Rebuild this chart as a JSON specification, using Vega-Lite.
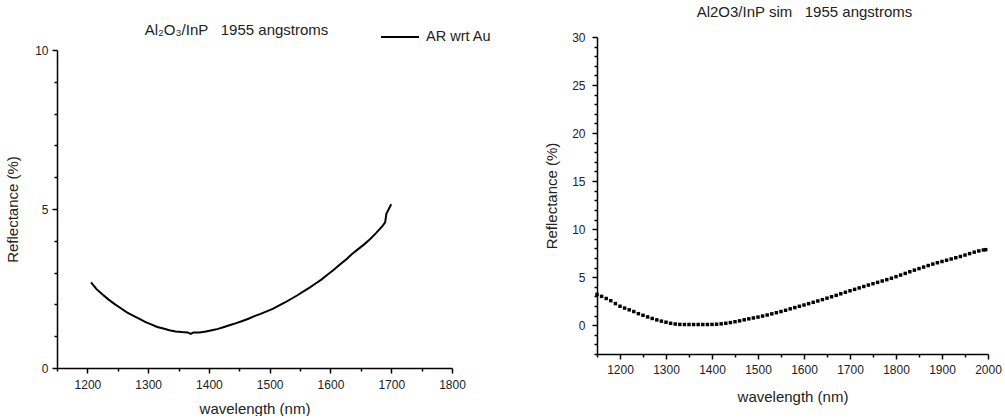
{
  "$schema": "https://vega.github.io/schema/vega-lite/v6.json",
  "padding": {"left": 5, "top": 5, "right": 0, "bottom": 0},
  "config": {
    "view": {"stroke": null},
    "font": "Liberation Sans",
    "axis": {
      "grid": false,
      "domainColor": "black",
      "domainWidth": 1.5,
      "tickColor": "black",
      "tickWidth": 1.5,
      "labelFont": "Liberation Sans",
      "labelFontSize": 12,
      "labelColor": "#222",
      "titleFont": "Liberation Sans",
      "titleFontSize": 15,
      "titleFontWeight": "normal",
      "titleColor": "#222",
      "labelPadding": 4,
      "labelOverlap": false,
      "labelFlush": false
    },
    "title": {"font": "Liberation Sans", "fontSize": 15, "fontWeight": "normal", "color": "#222", "frame": "group", "baseline": "alphabetic"}
  },
  "spacing": 78,
  "hconcat": [
    {
      "width": 395,
      "height": 331,
      "title": {"text": "Al₂O₃/InP\u00a0\u00a0\u00a01955 angstroms", "dx": -18, "offset": -1},
      "data": {"values": [
        {"series": "AR wrt Au", "wavelength": 1206, "reflectance": 2.69},
        {"series": "AR wrt Au", "wavelength": 1215, "reflectance": 2.48},
        {"series": "AR wrt Au", "wavelength": 1225, "reflectance": 2.31},
        {"series": "AR wrt Au", "wavelength": 1235, "reflectance": 2.15},
        {"series": "AR wrt Au", "wavelength": 1245, "reflectance": 2.01},
        {"series": "AR wrt Au", "wavelength": 1255, "reflectance": 1.88},
        {"series": "AR wrt Au", "wavelength": 1265, "reflectance": 1.75},
        {"series": "AR wrt Au", "wavelength": 1275, "reflectance": 1.65},
        {"series": "AR wrt Au", "wavelength": 1285, "reflectance": 1.55},
        {"series": "AR wrt Au", "wavelength": 1295, "reflectance": 1.45},
        {"series": "AR wrt Au", "wavelength": 1305, "reflectance": 1.37},
        {"series": "AR wrt Au", "wavelength": 1315, "reflectance": 1.29},
        {"series": "AR wrt Au", "wavelength": 1325, "reflectance": 1.24},
        {"series": "AR wrt Au", "wavelength": 1335, "reflectance": 1.19},
        {"series": "AR wrt Au", "wavelength": 1345, "reflectance": 1.15},
        {"series": "AR wrt Au", "wavelength": 1355, "reflectance": 1.13},
        {"series": "AR wrt Au", "wavelength": 1365, "reflectance": 1.12},
        {"series": "AR wrt Au", "wavelength": 1370, "reflectance": 1.07},
        {"series": "AR wrt Au", "wavelength": 1375, "reflectance": 1.12},
        {"series": "AR wrt Au", "wavelength": 1385, "reflectance": 1.12},
        {"series": "AR wrt Au", "wavelength": 1395, "reflectance": 1.15},
        {"series": "AR wrt Au", "wavelength": 1405, "reflectance": 1.19},
        {"series": "AR wrt Au", "wavelength": 1415, "reflectance": 1.23},
        {"series": "AR wrt Au", "wavelength": 1425, "reflectance": 1.29},
        {"series": "AR wrt Au", "wavelength": 1435, "reflectance": 1.35},
        {"series": "AR wrt Au", "wavelength": 1445, "reflectance": 1.41},
        {"series": "AR wrt Au", "wavelength": 1455, "reflectance": 1.48},
        {"series": "AR wrt Au", "wavelength": 1465, "reflectance": 1.55},
        {"series": "AR wrt Au", "wavelength": 1475, "reflectance": 1.63},
        {"series": "AR wrt Au", "wavelength": 1485, "reflectance": 1.70},
        {"series": "AR wrt Au", "wavelength": 1495, "reflectance": 1.78},
        {"series": "AR wrt Au", "wavelength": 1505, "reflectance": 1.86},
        {"series": "AR wrt Au", "wavelength": 1515, "reflectance": 1.96},
        {"series": "AR wrt Au", "wavelength": 1525, "reflectance": 2.06},
        {"series": "AR wrt Au", "wavelength": 1535, "reflectance": 2.17},
        {"series": "AR wrt Au", "wavelength": 1545, "reflectance": 2.28},
        {"series": "AR wrt Au", "wavelength": 1555, "reflectance": 2.40},
        {"series": "AR wrt Au", "wavelength": 1565, "reflectance": 2.52},
        {"series": "AR wrt Au", "wavelength": 1575, "reflectance": 2.65},
        {"series": "AR wrt Au", "wavelength": 1585, "reflectance": 2.78},
        {"series": "AR wrt Au", "wavelength": 1595, "reflectance": 2.93},
        {"series": "AR wrt Au", "wavelength": 1605, "reflectance": 3.08},
        {"series": "AR wrt Au", "wavelength": 1615, "reflectance": 3.25},
        {"series": "AR wrt Au", "wavelength": 1625, "reflectance": 3.40},
        {"series": "AR wrt Au", "wavelength": 1635, "reflectance": 3.58},
        {"series": "AR wrt Au", "wavelength": 1645, "reflectance": 3.73},
        {"series": "AR wrt Au", "wavelength": 1655, "reflectance": 3.88},
        {"series": "AR wrt Au", "wavelength": 1665, "reflectance": 4.05},
        {"series": "AR wrt Au", "wavelength": 1675, "reflectance": 4.24},
        {"series": "AR wrt Au", "wavelength": 1685, "reflectance": 4.45},
        {"series": "AR wrt Au", "wavelength": 1690, "reflectance": 4.58},
        {"series": "AR wrt Au", "wavelength": 1692, "reflectance": 4.85},
        {"series": "AR wrt Au", "wavelength": 1700, "reflectance": 5.15}
      ]},
      "mark": {"type": "line", "strokeWidth": 2},
      "encoding": {
        "x": {
          "field": "wavelength", "type": "quantitative",
          "scale": {"domain": [1150, 1800], "nice": false, "zero": false},
          "axis": {
            "title": "wavelength (nm)",
            "format": "d",
            "values": [1150, 1200, 1250, 1300, 1350, 1400, 1450, 1500, 1550, 1600, 1650, 1700, 1750, 1800],
            "labelExpr": "datum.value % 100 === 0 ? datum.label : ''",
            "tickSize": {"condition": {"test": "datum.value % 100 === 0", "value": 5}, "value": 3},
            "labelPadding": 6,
            "titlePadding": 11
          }
        },
        "y": {
          "field": "reflectance", "type": "quantitative",
          "scale": {"domain": [0, 10], "range": [331, 13], "nice": false, "zero": false},
          "axis": {
            "title": "Reflectance (%)",
            "values": [0, 1, 2, 3, 4, 5, 6, 7, 8, 9, 10],
            "labelExpr": "datum.value % 5 === 0 ? datum.label : ''",
            "tickSize": {"condition": {"test": "datum.value % 5 === 0", "value": 5}, "value": 3},
            "titlePadding": 14
          }
        },
        "color": {
          "field": "series", "type": "nominal",
          "scale": {"range": ["black"]},
          "legend": {
            "title": null,
            "orient": "none",
            "legendX": 323,
            "legendY": -20,
            "padding": 0,
            "symbolType": "stroke",
            "symbolSize": 1444,
            "symbolStrokeWidth": 2,
            "symbolStrokeColor": "black",
            "labelFont": "Liberation Sans",
            "labelFontSize": 14.5,
            "labelColor": "#222",
            "labelOffset": 6
          }
        }
      }
    },
    {
      "width": 391,
      "height": 317,
      "title": {"text": "Al2O3/InP sim\u00a0\u00a0\u00a01955 angstroms", "dx": 12, "offset": 11},
      "data": {"values": [
        {"wavelength": 1150, "reflectance": 3.2},
        {"wavelength": 1160, "reflectance": 3.0},
        {"wavelength": 1170, "reflectance": 2.78},
        {"wavelength": 1180, "reflectance": 2.55},
        {"wavelength": 1190, "reflectance": 2.25},
        {"wavelength": 1200, "reflectance": 1.97},
        {"wavelength": 1210, "reflectance": 1.78},
        {"wavelength": 1220, "reflectance": 1.6},
        {"wavelength": 1230, "reflectance": 1.42},
        {"wavelength": 1240, "reflectance": 1.2},
        {"wavelength": 1250, "reflectance": 1.03},
        {"wavelength": 1260, "reflectance": 0.86},
        {"wavelength": 1270, "reflectance": 0.7},
        {"wavelength": 1280, "reflectance": 0.55},
        {"wavelength": 1290, "reflectance": 0.42},
        {"wavelength": 1300, "reflectance": 0.31},
        {"wavelength": 1310, "reflectance": 0.2},
        {"wavelength": 1320, "reflectance": 0.12},
        {"wavelength": 1330, "reflectance": 0.08},
        {"wavelength": 1340, "reflectance": 0.07},
        {"wavelength": 1350, "reflectance": 0.07},
        {"wavelength": 1360, "reflectance": 0.07},
        {"wavelength": 1370, "reflectance": 0.07},
        {"wavelength": 1380, "reflectance": 0.07},
        {"wavelength": 1390, "reflectance": 0.07},
        {"wavelength": 1400, "reflectance": 0.08},
        {"wavelength": 1410, "reflectance": 0.1},
        {"wavelength": 1420, "reflectance": 0.14},
        {"wavelength": 1430, "reflectance": 0.2},
        {"wavelength": 1440, "reflectance": 0.27},
        {"wavelength": 1450, "reflectance": 0.36},
        {"wavelength": 1460, "reflectance": 0.45},
        {"wavelength": 1470, "reflectance": 0.56},
        {"wavelength": 1480, "reflectance": 0.66},
        {"wavelength": 1490, "reflectance": 0.75},
        {"wavelength": 1500, "reflectance": 0.84},
        {"wavelength": 1510, "reflectance": 0.95},
        {"wavelength": 1520, "reflectance": 1.06},
        {"wavelength": 1530, "reflectance": 1.18},
        {"wavelength": 1540, "reflectance": 1.3},
        {"wavelength": 1550, "reflectance": 1.42},
        {"wavelength": 1560, "reflectance": 1.55},
        {"wavelength": 1570, "reflectance": 1.7},
        {"wavelength": 1580, "reflectance": 1.83},
        {"wavelength": 1590, "reflectance": 1.97},
        {"wavelength": 1600, "reflectance": 2.1},
        {"wavelength": 1610, "reflectance": 2.24},
        {"wavelength": 1620, "reflectance": 2.38},
        {"wavelength": 1630, "reflectance": 2.52},
        {"wavelength": 1640, "reflectance": 2.66},
        {"wavelength": 1650, "reflectance": 2.81},
        {"wavelength": 1660, "reflectance": 2.96},
        {"wavelength": 1670, "reflectance": 3.11},
        {"wavelength": 1680, "reflectance": 3.27},
        {"wavelength": 1690, "reflectance": 3.43},
        {"wavelength": 1700, "reflectance": 3.58},
        {"wavelength": 1710, "reflectance": 3.73},
        {"wavelength": 1720, "reflectance": 3.88},
        {"wavelength": 1730, "reflectance": 4.03},
        {"wavelength": 1740, "reflectance": 4.18},
        {"wavelength": 1750, "reflectance": 4.32},
        {"wavelength": 1760, "reflectance": 4.46},
        {"wavelength": 1770, "reflectance": 4.6},
        {"wavelength": 1780, "reflectance": 4.74},
        {"wavelength": 1790, "reflectance": 4.89},
        {"wavelength": 1800, "reflectance": 5.05},
        {"wavelength": 1810, "reflectance": 5.22},
        {"wavelength": 1820, "reflectance": 5.39},
        {"wavelength": 1830, "reflectance": 5.56},
        {"wavelength": 1840, "reflectance": 5.73},
        {"wavelength": 1850, "reflectance": 5.89},
        {"wavelength": 1860, "reflectance": 6.05},
        {"wavelength": 1870, "reflectance": 6.21},
        {"wavelength": 1880, "reflectance": 6.36},
        {"wavelength": 1890, "reflectance": 6.5},
        {"wavelength": 1900, "reflectance": 6.63},
        {"wavelength": 1910, "reflectance": 6.76},
        {"wavelength": 1920, "reflectance": 6.89},
        {"wavelength": 1930, "reflectance": 7.02},
        {"wavelength": 1940, "reflectance": 7.15},
        {"wavelength": 1950, "reflectance": 7.3},
        {"wavelength": 1960, "reflectance": 7.45},
        {"wavelength": 1970, "reflectance": 7.6},
        {"wavelength": 1980, "reflectance": 7.73},
        {"wavelength": 1990, "reflectance": 7.83},
        {"wavelength": 1995, "reflectance": 7.86}
      ]},
      "mark": {"type": "point", "shape": "square", "filled": true, "color": "black", "size": 12, "opacity": 1},
      "encoding": {
        "x": {
          "field": "wavelength", "type": "quantitative",
          "scale": {"domain": [1150, 2000], "nice": false, "zero": false},
          "axis": {
            "title": "wavelength (nm)",
            "format": "d",
            "values": [1150, 1200, 1250, 1300, 1350, 1400, 1450, 1500, 1550, 1600, 1650, 1700, 1750, 1800, 1850, 1900, 1950, 2000],
            "labelExpr": "datum.value % 100 === 0 ? datum.label : ''",
            "tickSize": {"condition": {"test": "datum.value % 100 === 0", "value": 5}, "value": 3},
            "labelPadding": 5,
            "titlePadding": 14
          }
        },
        "y": {
          "field": "reflectance", "type": "quantitative",
          "scale": {"domain": [-3, 30], "nice": false, "zero": false},
          "axis": {
            "title": "Reflectance (%)",
            "values": [-3, -2, -1, 0, 1, 2, 3, 4, 5, 6, 7, 8, 9, 10, 11, 12, 13, 14, 15, 16, 17, 18, 19, 20, 21, 22, 23, 24, 25, 26, 27, 28, 29, 30],
            "labelExpr": "datum.value % 5 === 0 ? datum.label : ''",
            "tickSize": {"condition": {"test": "datum.value % 5 === 0", "value": 5}, "value": 3},
            "labelPadding": 7,
            "titlePadding": 12
          }
        }
      }
    }
  ]
}
